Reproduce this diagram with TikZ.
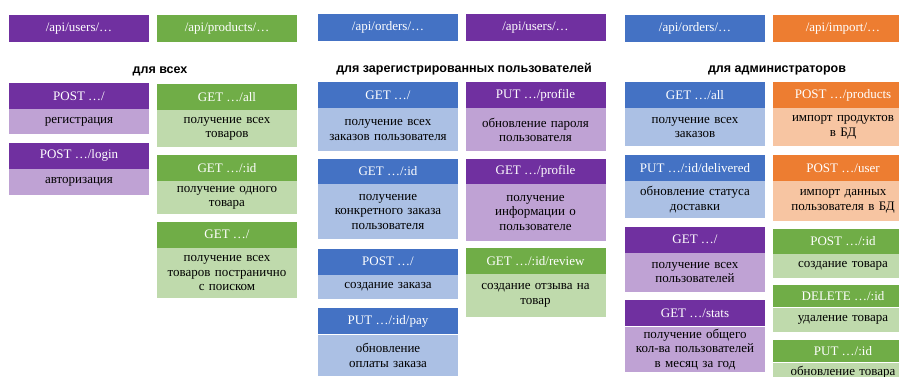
\documentclass[tikz,border=0pt]{standalone}
\usepackage{fontspec}
\setmainfont{Liberation Serif}
\newfontfamily\lblfont{Liberation Sans}
\usetikzlibrary{positioning}

\definecolor{apiPurple}{HTML}{7030A0}
\definecolor{apiGreen}{HTML}{70AD47}
\definecolor{apiBlue}{HTML}{4472C4}
\definecolor{apiOrange}{HTML}{ED7D31}

\begin{document}
\begin{tikzpicture}[
  x=1pt, y=-1pt,
  font=\rmfamily\fontsize{13}{14.5}\selectfont,
  node distance=8pt,
  hdr/.style={
    rectangle,
    fill=#1,
    text=white,
    minimum width=140pt,
    minimum height=26pt,
    inner sep=0pt
  },
  desc/.style={
    rectangle,
    fill=#1!45,
    text=black,
    text width=132pt,
    inner xsep=4pt,
    inner ysep=2pt,
    minimum height=25pt,
    align=center
  },
  group/.style={font=\lblfont\bfseries\fontsize{12.5}{14}\selectfont}
]
  \useasboundingbox (0,0) rectangle (899,377);
  \clip (0,0) rectangle (899,377);

  % route prefixes
  \node[hdr=apiPurple, minimum height=27pt] (apiUsers) at (79,28.5) {/api/users/…};
  \node[hdr=apiGreen, minimum height=27pt] (apiProducts) at (227,28.5) {/api/products/…};
  \node[hdr=apiBlue, minimum height=27pt] (apiOrders) at (388,27.5) {/api/orders/…};
  \node[hdr=apiPurple, minimum height=27pt] (apiUsersB) at (535.5,27.5) {/api/users/…};
  \node[hdr=apiBlue, minimum height=27pt] (apiOrdersB) at (695,28.5) {/api/orders/…};
  \node[hdr=apiOrange, minimum height=27pt] (apiImport) at (843,28.5) {/api/import/…};

  % access groups
  \node[group] (allLbl) at (160,71) {для всех};
  \node[group] (regLbl) at (464,69) {для зарегистрированных пользователей};
  \node[group] (adminLbl) at (777,70) {для администраторов};

  % for everyone
  \node[hdr=apiPurple] (signup) at (79,96) {POST …/};
  \node[desc=apiPurple, below=0pt of signup] (signupD) {регистрация};
  \node[hdr=apiPurple, below=of signupD] (login) {POST …/login};
  \node[desc=apiPurple, below=0pt of login, minimum height=26pt] (loginD) {авторизация};

  \node[hdr=apiGreen] (prodAll) at (227,97) {GET …/all};
  \node[desc=apiGreen, below=0pt of prodAll, minimum height=37pt] (prodAllD) {получение всех\\товаров};
  \node[hdr=apiGreen, below=7pt of prodAllD] (prodOne) {GET …/:id};
  \node[desc=apiGreen, below=0pt of prodOne, minimum height=33pt] (prodOneD) {получение одного\\товара};
  \node[hdr=apiGreen, below=7pt of prodOneD] (prodPage) {GET …/};
  \node[desc=apiGreen, below=0pt of prodPage, minimum height=50pt] (prodPageD) {получение всех\\товаров постранично\\с поиском};

  % for registered users
  \node[hdr=apiBlue] (ordMine) at (388,95) {GET …/};
  \node[desc=apiBlue, below=0pt of ordMine, minimum height=43pt] (ordMineD) {получение всех\\заказов пользователя};
  \node[hdr=apiBlue, below=7pt of ordMineD, minimum height=25pt] (ordOne) {GET …/:id};
  \node[desc=apiBlue, below=0pt of ordOne, minimum height=55pt] (ordOneD) {получение\\конкретного заказа\\пользователя};
  \node[hdr=apiBlue, below=9pt of ordOneD] (ordNew) {POST …/};
  \node[desc=apiBlue, below=0pt of ordNew, minimum height=24pt] (ordNewD) {создание заказа};
  \node[hdr=apiBlue, below=9pt of ordNewD] (ordPay) {PUT …/:id/pay};
  \node[desc=apiBlue, below=0pt of ordPay, minimum height=41pt] (ordPayD) {обновление\\оплаты заказа};

  \node[hdr=apiPurple] (profPut) at (535.5,95) {PUT …/profile};
  \node[desc=apiPurple, below=0pt of profPut, minimum height=43pt] (profPutD) {обновление пароля\\пользователя};
  \node[hdr=apiPurple, below=7pt of profPutD, minimum height=25pt] (profGet) {GET …/profile};
  \node[desc=apiPurple, below=0pt of profGet, minimum height=57pt] (profGetD) {получение\\информации о\\пользователе};
  \node[hdr=apiGreen, below=6pt of profGetD] (review) {GET …/:id/review};
  \node[desc=apiGreen, below=0pt of review, minimum height=43pt] (reviewD) {создание отзыва на\\товар};

  % for administrators
  \node[hdr=apiBlue] (ordAll) at (695,95) {GET …/all};
  \node[desc=apiBlue, below=0pt of ordAll, minimum height=38pt] (ordAllD) {получение всех\\заказов};
  \node[hdr=apiBlue, below=of ordAllD] (ordDeliv) {PUT …/:id/delivered};
  \node[desc=apiBlue, below=0pt of ordDeliv, minimum height=37pt] (ordDelivD) {обновление статуса\\доставки};
  \node[hdr=apiPurple, below=of ordDelivD] (usrAll) {GET …/};
  \node[desc=apiPurple, below=0pt of usrAll, minimum height=39pt] (usrAllD) {получение всех\\пользователей};
  \node[hdr=apiPurple, below=of usrAllD] (usrStats) {GET …/stats};
  \node[desc=apiPurple, below=0pt of usrStats, minimum height=44pt] (usrStatsD) {получение общего\\кол-ва пользователей\\в месяц за год};

  \node[hdr=apiOrange] (impProd) at (843,95) {POST …/products};
  \node[desc=apiOrange, below=0pt of impProd, minimum height=38pt] (impProdD) {импорт продуктов\\в БД};
  \node[hdr=apiOrange, below=of impProdD] (impUser) {POST …/user};
  \node[desc=apiOrange, below=0pt of impUser, minimum height=40pt] (impUserD) {импорт данных\\пользователя в БД};
  \node[hdr=apiGreen, below=7pt of impUserD, minimum height=25pt] (prodNew) {POST …/:id};
  \node[desc=apiGreen, below=0pt of prodNew, minimum height=24pt] (prodNewD) {создание товара};
  \node[hdr=apiGreen, below=7pt of prodNewD, minimum height=22pt] (prodDel) {DELETE …/:id};
  \node[desc=apiGreen, below=0pt of prodDel, minimum height=24pt] (prodDelD) {удаление товара};
  \node[hdr=apiGreen, below=of prodDelD, minimum height=22pt] (prodPut) {PUT …/:id};
  \node[desc=apiGreen, below=0pt of prodPut, minimum height=30pt, text depth=14pt] (prodPutD) {обновление товара};
\end{tikzpicture}
\end{document}
